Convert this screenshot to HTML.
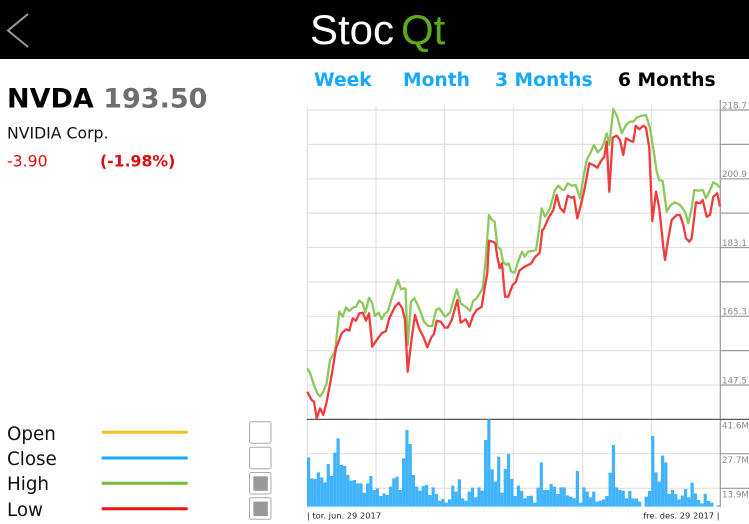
<!DOCTYPE html>
<html><head><meta charset="utf-8"><style>
html,body{margin:0;padding:0;background:#fff;width:749px;height:524px;overflow:hidden}
svg{display:block}
</style></head><body>
<svg width="749" height="524" viewBox="0 0 749 524" xmlns="http://www.w3.org/2000/svg">
<rect x="0" y="0" width="749" height="524" fill="#fff"/>
<!-- header -->
<rect x="0" y="0" width="749" height="59" fill="#000"/>
<polyline points="28,14 8,30.5 28,47" fill="none" stroke="#9a9a9a" stroke-width="2"/>
<text x="310" y="44" font-family="Liberation Sans, sans-serif" font-size="42" fill="#fff">Stoc</text>
<text x="401" y="44" font-family="Liberation Sans, sans-serif" font-size="42" fill="#5caa15">Qt</text>
<!-- tabs -->
<g font-family="DejaVu Sans, sans-serif" font-weight="bold" font-size="18.7">
<text x="314" y="86" fill="#14a8ff">Week</text>
<text x="403" y="86" fill="#14a8ff">Month</text>
<text x="495" y="86" fill="#14a8ff">3 Months</text>
<text x="618" y="86" fill="#000">6 Months</text>
</g>
<!-- left info -->
<text x="7" y="107.3" font-family="DejaVu Sans, sans-serif" font-weight="bold" font-size="27" fill="#000">NVDA <tspan fill="#6e6e6e">193.50</tspan></text>
<text x="7" y="138.3" font-family="DejaVu Sans, sans-serif" font-size="15.7" fill="#111">NVIDIA Corp.</text>
<text x="7" y="166.7" font-family="DejaVu Sans, sans-serif" font-size="15.7" fill="#dd0d0d">-3.90</text>
<text x="100" y="166.7" font-family="DejaVu Sans, sans-serif" font-weight="bold" font-size="15.7" fill="#dd0d0d">(-1.98%)</text>
<!-- legend -->
<g font-family="DejaVu Sans, sans-serif" font-size="18.3" fill="#111">
<text x="7" y="440">Open</text>
<text x="7" y="465">Close</text>
<text x="7" y="490">High</text>
<text x="7" y="516">Low</text>
</g>
<line x1="101.7" y1="432.3" x2="187.7" y2="432.3" stroke="#f5c324" stroke-width="3"/>
<line x1="101.7" y1="458" x2="187.7" y2="458" stroke="#14aaff" stroke-width="3"/>
<line x1="101.7" y1="483.3" x2="187.7" y2="483.3" stroke="#77bb3a" stroke-width="3"/>
<line x1="101.7" y1="508.7" x2="187.7" y2="508.7" stroke="#f51414" stroke-width="3"/>
<g fill="#fff" stroke="#aaa" stroke-width="1">
<rect x="249.5" y="421.7" width="21.5" height="21.5" rx="2"/>
<rect x="249.5" y="447.2" width="21.5" height="21.5" rx="2"/>
<rect x="249.5" y="472.5" width="21.5" height="21.5" rx="2"/>
<rect x="249.5" y="497.8" width="21.5" height="21.5" rx="2"/>
</g>
<rect x="253.3" y="476.3" width="14.5" height="14.5" fill="#999"/>
<rect x="253.3" y="501.6" width="14.5" height="14.5" fill="#999"/>
<!-- grid -->
<g stroke="#e2e2e2" stroke-width="1.2">
<line x1="307.3" y1="106" x2="307.3" y2="507"/>
<line x1="376" y1="106" x2="376" y2="507"/>
<line x1="444.5" y1="106" x2="444.5" y2="507"/>
<line x1="513.3" y1="106" x2="513.3" y2="507"/>
<line x1="582.7" y1="106" x2="582.7" y2="507"/>
<line x1="651.5" y1="106" x2="651.5" y2="507"/>
<line x1="307" y1="110" x2="720" y2="110"/>
<line x1="307" y1="144.4" x2="720" y2="144.4"/>
<line x1="307" y1="178.8" x2="720" y2="178.8"/>
<line x1="307" y1="213.1" x2="720" y2="213.1"/>
<line x1="307" y1="247.5" x2="720" y2="247.5"/>
<line x1="307" y1="281.9" x2="720" y2="281.9"/>
<line x1="307" y1="316.3" x2="720" y2="316.3"/>
<line x1="307" y1="350.6" x2="720" y2="350.6"/>
<line x1="307" y1="385" x2="720" y2="385"/>
<line x1="307" y1="453.7" x2="720" y2="453.7"/>
<line x1="307" y1="488.3" x2="720" y2="488.3"/>
</g>
<g stroke="#9a9a9a" stroke-width="1.2">
<line x1="720" y1="110" x2="749" y2="110"/>
<line x1="720" y1="144.4" x2="749" y2="144.4"/>
<line x1="720" y1="178.8" x2="749" y2="178.8"/>
<line x1="720" y1="213.1" x2="749" y2="213.1"/>
<line x1="720" y1="247.5" x2="749" y2="247.5"/>
<line x1="720" y1="281.9" x2="749" y2="281.9"/>
<line x1="720" y1="316.3" x2="749" y2="316.3"/>
<line x1="720" y1="350.6" x2="749" y2="350.6"/>
<line x1="720" y1="385" x2="749" y2="385"/>
<line x1="720" y1="453.7" x2="749" y2="453.7"/>
<line x1="720" y1="488.3" x2="749" y2="488.3"/>
<line x1="720.3" y1="100" x2="720.3" y2="507"/>
</g>
<line x1="307" y1="419.4" x2="749" y2="419.4" stroke="#555" stroke-width="1.3"/>
<!-- axis labels -->
<g font-family="DejaVu Sans, sans-serif" font-size="8.7" fill="#888">
<text x="722" y="108.5">218.7</text>
<text x="722" y="177.2">200.9</text>
<text x="722" y="246">183.1</text>
<text x="722" y="314.7">165.3</text>
<text x="722" y="383.4">147.5</text>
<text x="722" y="428.5">41.6M</text>
<text x="722" y="462.8">27.7M</text>
<text x="722" y="497.3">13.9M</text>
</g>
<g font-family="DejaVu Sans, sans-serif" font-size="8.3" fill="#222">
<text x="307" y="518.5">| tor. jun. 29 2017</text>
<text x="719.5" y="518.5" text-anchor="end">fre. des. 29 2017 |</text>
</g>
<!-- volume bars -->
<g transform="translate(307,410) scale(3.278,0.33333)" fill="#3fb3fb">
<path d="M0 290V142h.97V290zM1 290V205h.97V290zM2 290V207h.97V290zM3 290V187h.97V290zM4 290V202h.97V290zM5 290V217h.97V290zM6 290V162h.97V290zM7 290V198h.97V290zM8 290V128h.97V290zM9 290V85h.97V290zM10 290V165h.97V290zM11 290V168h.97V290zM12 290V195h.97V290zM13 290V212h.97V290zM14 290V210h.97V290zM15 290V220h.97V290zM16 290V220h.97V290zM17 290V248h.97V290zM18 290V220h.97V290zM19 290V198h.97V290zM20 290V240h.97V290zM21 290V235h.97V290zM22 290V258h.97V290zM23 290V250h.97V290zM24 290V255h.97V290zM25 290V230h.97V290zM26 290V205h.97V290zM27 290V200h.97V290zM28 290V240h.97V290zM29 290V145h.97V290zM30 290V60h.97V290zM31 290V102h.97V290zM32 290V195h.97V290zM33 290V230h.97V290zM34 290V242h.97V290zM35 290V228h.97V290zM36 290V225h.97V290zM37 290V255h.97V290zM38 290V232h.97V290zM39 290V252h.97V290zM40 290V272h.97V290zM41 290V267h.97V290zM42 290V278h.97V290zM43 290V268h.97V290zM44 290V227h.97V290zM45 290V245h.97V290zM46 290V208h.97V290zM47 290V265h.97V290zM48 290V272h.97V290zM49 290V245h.97V290zM50 290V233h.97V290zM51 290V262h.97V290zM52 290V232h.97V290zM53 290V242h.97V290zM54 290V90h.97V290zM55 290V28h.97V290zM56 290V178h.97V290zM57 290V215h.97V290zM58 290V140h.97V290zM59 290V248h.97V290zM60 290V177h.97V290zM61 290V132h.97V290zM62 290V207h.97V290zM63 290V258h.97V290zM64 290V227h.97V290zM65 290V243h.97V290zM66 290V265h.97V290zM67 290V258h.97V290zM68 290V257h.97V290zM69 290V278h.97V290zM70 290V233h.97V290zM71 290V157h.97V290zM72 290V240h.97V290zM73 290V240h.97V290zM74 290V222h.97V290zM75 290V230h.97V290zM76 290V252h.97V290zM77 290V232h.97V290zM78 290V232h.97V290zM79 290V256h.97V290zM80 290V260h.97V290zM81 290V265h.97V290zM82 290V183h.97V290zM83 290V278h.97V290zM84 290V232h.97V290zM85 290V245h.97V290zM86 290V262h.97V290zM87 290V245h.97V290zM88 290V275h.97V290zM89 290V272h.97V290zM90 290V268h.97V290zM91 290V258h.97V290zM92 290V188h.97V290zM93 290V105h.97V290zM94 290V232h.97V290zM95 290V240h.97V290zM96 290V242h.97V290zM97 290V265h.97V290zM98 290V243h.97V290zM99 290V265h.97V290zM100 290V265h.97V290zM101 290V275h.97V290zM103 290V260h.97V290zM104 290V243h.97V290zM105 290V78h.97V290zM106 290V187h.97V290zM107 290V215h.97V290zM108 290V137h.97V290zM109 290V157h.97V290zM110 290V252h.97V290zM111 290V240h.97V290zM112 290V252h.97V290zM113 290V268h.97V290zM114 290V257h.97V290zM115 290V237h.97V290zM116 290V262h.97V290zM117 290V218h.97V290zM118 290V250h.97V290zM119 290V270h.97V290zM120 290V280h.97V290zM121 290V252h.97V290zM122 290V273h.97V290zM123 290V278h.97V290zM125 290V286h.97V290z"/>
</g>
<!-- High -->
<polyline fill="none" stroke="#8dc85c" stroke-width="2.3" stroke-linejoin="round" points="307.3,368.3 310,373 314,385 317,393 320,396.7 323,392 326.5,384 330,360 335,351.7 339.3,311.7 342.7,316.7 346,307.3 349.3,311 353.3,307.3 356,307 359.3,300.7 362.7,303.3 365.3,312.7 369,297.7 372.3,303.3 374.7,316 378.7,312.7 381.7,319.3 384.5,314 387.7,311.7 392.7,295 398,280 401,289.3 404.3,288.3 405.5,289 407.7,345 411,301.7 414.3,298.3 417.7,305 421.7,315 424,321.7 428.3,326 432.3,326 436,310 439.3,308.3 445,316.7 450,312.7 456.7,289.3 460.7,303.3 465.7,306.7 470,311 473.3,300.7 476.7,298.3 482.7,288.3 485.7,260 489,215 492,220 494.7,221.7 497.3,246.7 500.7,249.3 503,261.7 506.3,265 508.7,263.3 511.3,271.7 514.7,272.7 518,261.7 522,251.7 524.7,256.7 528,251.7 533,250.7 536,250 538.3,235 541.7,208.3 545,216.7 550,208.3 555,190 558.3,185.7 561.7,189.3 564.3,190 567.7,183.3 571.7,185.7 575.7,185 580,198.3 583.3,178.3 586.7,160 590.7,152.3 594,145 597.7,152.3 601.7,148.3 604.3,141.7 606.7,133.3 609.3,145 613.3,109 617.3,116.7 621.7,133.3 626,125 630,121.7 633.3,121.7 636.7,117.7 641.7,115.7 646,115 650,128.3 653.3,148.3 656.7,171.7 659.3,180 662.7,181 666.7,211.7 670.7,205 675,202.3 680,205 685,211.7 688.3,223.3 691.7,208.3 694.3,190 698.3,190.7 702.7,190 706,198.3 709.3,191.7 713.3,182.3 716.7,184.3 720,187.7"/>
<!-- Low -->
<polyline fill="none" stroke="#f03c3c" stroke-width="2.3" stroke-linejoin="round" points="307.3,391.7 311.7,400 314,401.7 316.7,418.3 320,408.3 323.3,415 326.7,401.7 331.7,375 336,348.3 341.7,333.3 346,329.3 349.3,330.7 352.7,318.3 356,320.7 359.3,313.3 362.7,312.7 366,320.7 369,313.3 372.3,346.7 376.7,340 381.7,333.3 386,331 389.3,318.3 395,306.7 398.7,302.7 402.3,308.3 405,320 407.7,371.7 411.7,338.3 415,315 419,328.3 423.3,336.7 427.3,347.3 431.7,336.7 434,334 436.7,320.7 440.7,321.7 445,327.7 447.7,327.7 451.7,320 455,308.3 457.3,300 460.7,322.7 465.7,319.3 469.3,326.7 473.3,315 476.7,310 481.7,306.7 484.3,290 487.3,273 489,240.7 493,241.7 495.3,243.3 497.3,256.7 499.7,268.3 502,263.3 505,296.7 508.3,296.7 512.7,285 516,281.7 519.3,270.7 524.7,266.7 531.3,263.3 535.3,256.7 539.7,253 542.3,230 544,228.3 548.3,218.3 553.3,210 556.7,195 560,207.7 564,212.3 567.7,195.7 571.7,197.7 574,196.7 577.3,218.3 580,208.3 584,191.7 589.3,163.3 593.3,165 597.3,167.7 601.7,160 604.3,156.7 606.7,141.7 609.3,191.7 612.7,137.7 616.7,135.7 620,140 623.3,155 626,138.3 630.7,141 633.3,141.7 635.7,125.7 639.3,129.3 643.3,125.7 646,127.7 649.3,148.3 652.3,221 656,191.7 659.3,208.3 663.3,246.7 665,260 668,240 671.7,220 676.7,215 680,215 683.3,225 686,238.3 689.3,241.7 691.7,238.3 696,202.3 700,203.3 702.7,200 706.7,216.7 710,215 713.3,196.7 717.3,193.3 720,206.7"/>
</svg>
</body></html>
